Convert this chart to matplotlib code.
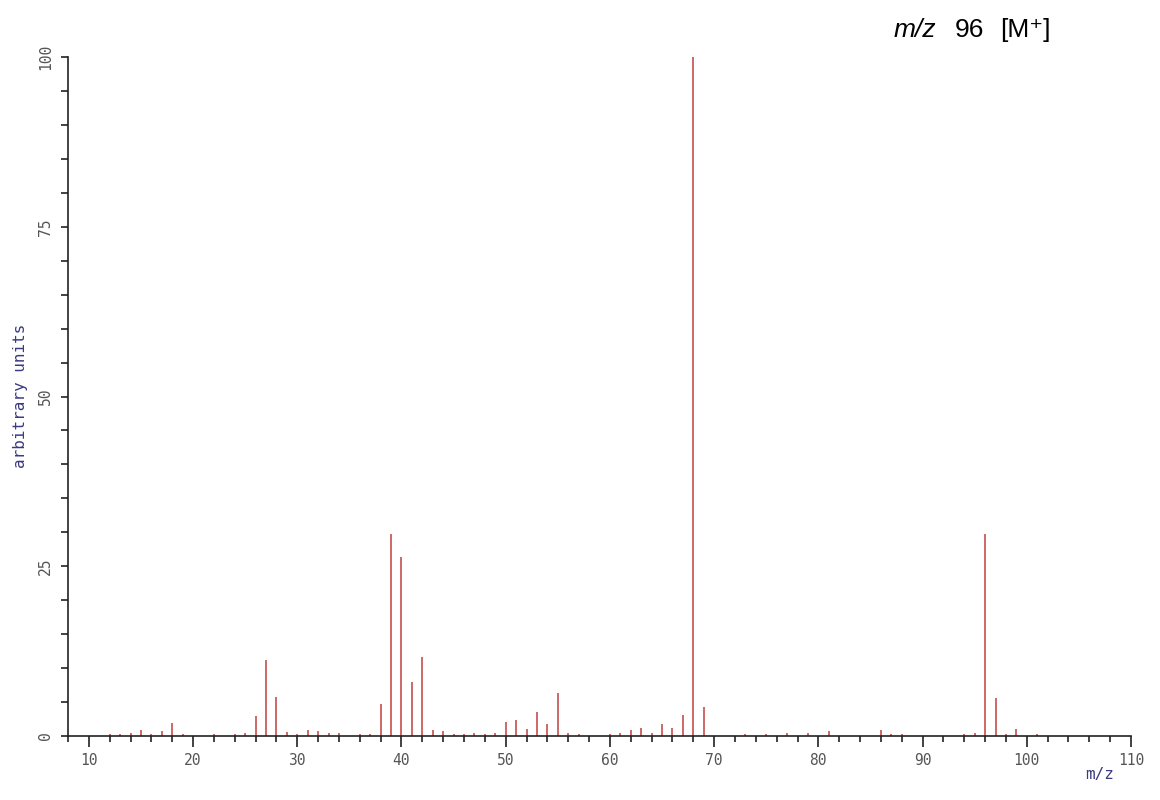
import matplotlib
matplotlib.use('Agg')
import matplotlib.pyplot as plt
from matplotlib.ticker import MultipleLocator

# EI mass spectrum, peaks (relative intensity, base peak = 100)
mz = [12, 13, 14, 15, 16, 17, 18, 19, 22, 24, 25, 26, 27, 28, 29, 30, 31, 32, 33, 34,
      36, 37, 38, 39, 40, 41, 42, 43, 44, 45, 46, 47, 48, 49, 50, 51, 52, 53, 54, 55,
      56, 57, 60, 61, 62, 63, 64, 65, 66, 67, 68, 69, 73, 75, 77, 79, 81, 86, 87, 88,
      94, 95, 96, 97, 98, 99, 101]
intensity = [0.3, 0.3, 0.5, 0.9, 0.3, 0.7, 1.9, 0.3, 0.3, 0.3, 0.5, 2.9, 11.2, 5.8, 0.6, 0.3, 0.9, 0.8, 0.5, 0.4,
             0.3, 0.3, 4.7, 29.8, 26.3, 8.0, 11.6, 0.9, 0.7, 0.3, 0.3, 0.4, 0.3, 0.5, 2.0, 2.3, 1.1, 3.6, 1.8, 6.3,
             0.5, 0.3, 0.3, 0.4, 0.9, 1.2, 0.5, 1.8, 1.2, 3.1, 100.0, 4.3, 0.3, 0.3, 0.4, 0.4, 0.7, 0.9, 0.3, 0.3,
             0.3, 0.5, 29.7, 5.6, 0.3, 1.1, 0.3]

y_ticks = [0, 25, 50, 75, 100]
x_ticks = [10, 20, 30, 40, 50, 60, 70, 80, 90, 100, 110]

tick_font = 'DejaVu Sans Mono'
label_color = '#3a3a80'

fig = plt.figure(figsize=(11.6, 8), dpi=100)
ax = fig.add_axes([0.0586, 0.08, 0.9164, 0.84875])

# stick spectrum
ax.vlines(mz, 0, intensity, color='#c04040', lw=1.1)

ax.set_xlim(8, 110)
ax.set_ylim(0, 100)
ax.set_xticks(x_ticks)
ax.xaxis.set_minor_locator(MultipleLocator(2))
ax.set_yticks(y_ticks)
ax.yaxis.set_minor_locator(MultipleLocator(5))

ax.spines['top'].set_visible(False)
ax.spines['right'].set_visible(False)
for s in ('left', 'bottom'):
    ax.spines[s].set_linewidth(1.2)
    ax.spines[s].set_color('#222222')

ax.tick_params(axis='x', which='major', length=8, width=1.2, color='#222222',
               labelsize=10.5, labelcolor='#555555', pad=4)
ax.tick_params(axis='x', which='minor', length=4, width=1.2, color='#222222')
ax.tick_params(axis='y', which='both', length=5, width=1.2, color='#222222',
               labelsize=10.5, labelcolor='#555555', pad=6)
for lab in ax.get_xticklabels() + ax.get_yticklabels():
    lab.set_family(tick_font)
for lab in ax.get_yticklabels():
    lab.set_rotation(90)
    lab.set_va('center')

fig.text(0.018, 0.505, 'arbitrary units', rotation=90, ha='center', va='center',
         fontsize=11.5, color=label_color, family=tick_font)
fig.text(0.948, 0.032, 'm/z', ha='center', va='center',
         fontsize=11.5, color=label_color, family=tick_font)

# molecular ion annotation (pieces placed separately to match the wide spacing)
title_y = 0.954
title_fonts = ['Liberation Sans', 'DejaVu Sans']
fig.text(0.7705, title_y, 'm/z', ha='left', va='baseline', fontsize=19,
         fontstyle='italic', family=title_fonts)
fig.text(0.8233, title_y, '96', ha='left', va='baseline', fontsize=19,
         family=title_fonts)
fig.text(0.862, title_y, '[M\u207a]', ha='left', va='baseline', fontsize=19,
         family=title_fonts)

fig.savefig('out.png', dpi=100, facecolor='white')
plt.close(fig)
